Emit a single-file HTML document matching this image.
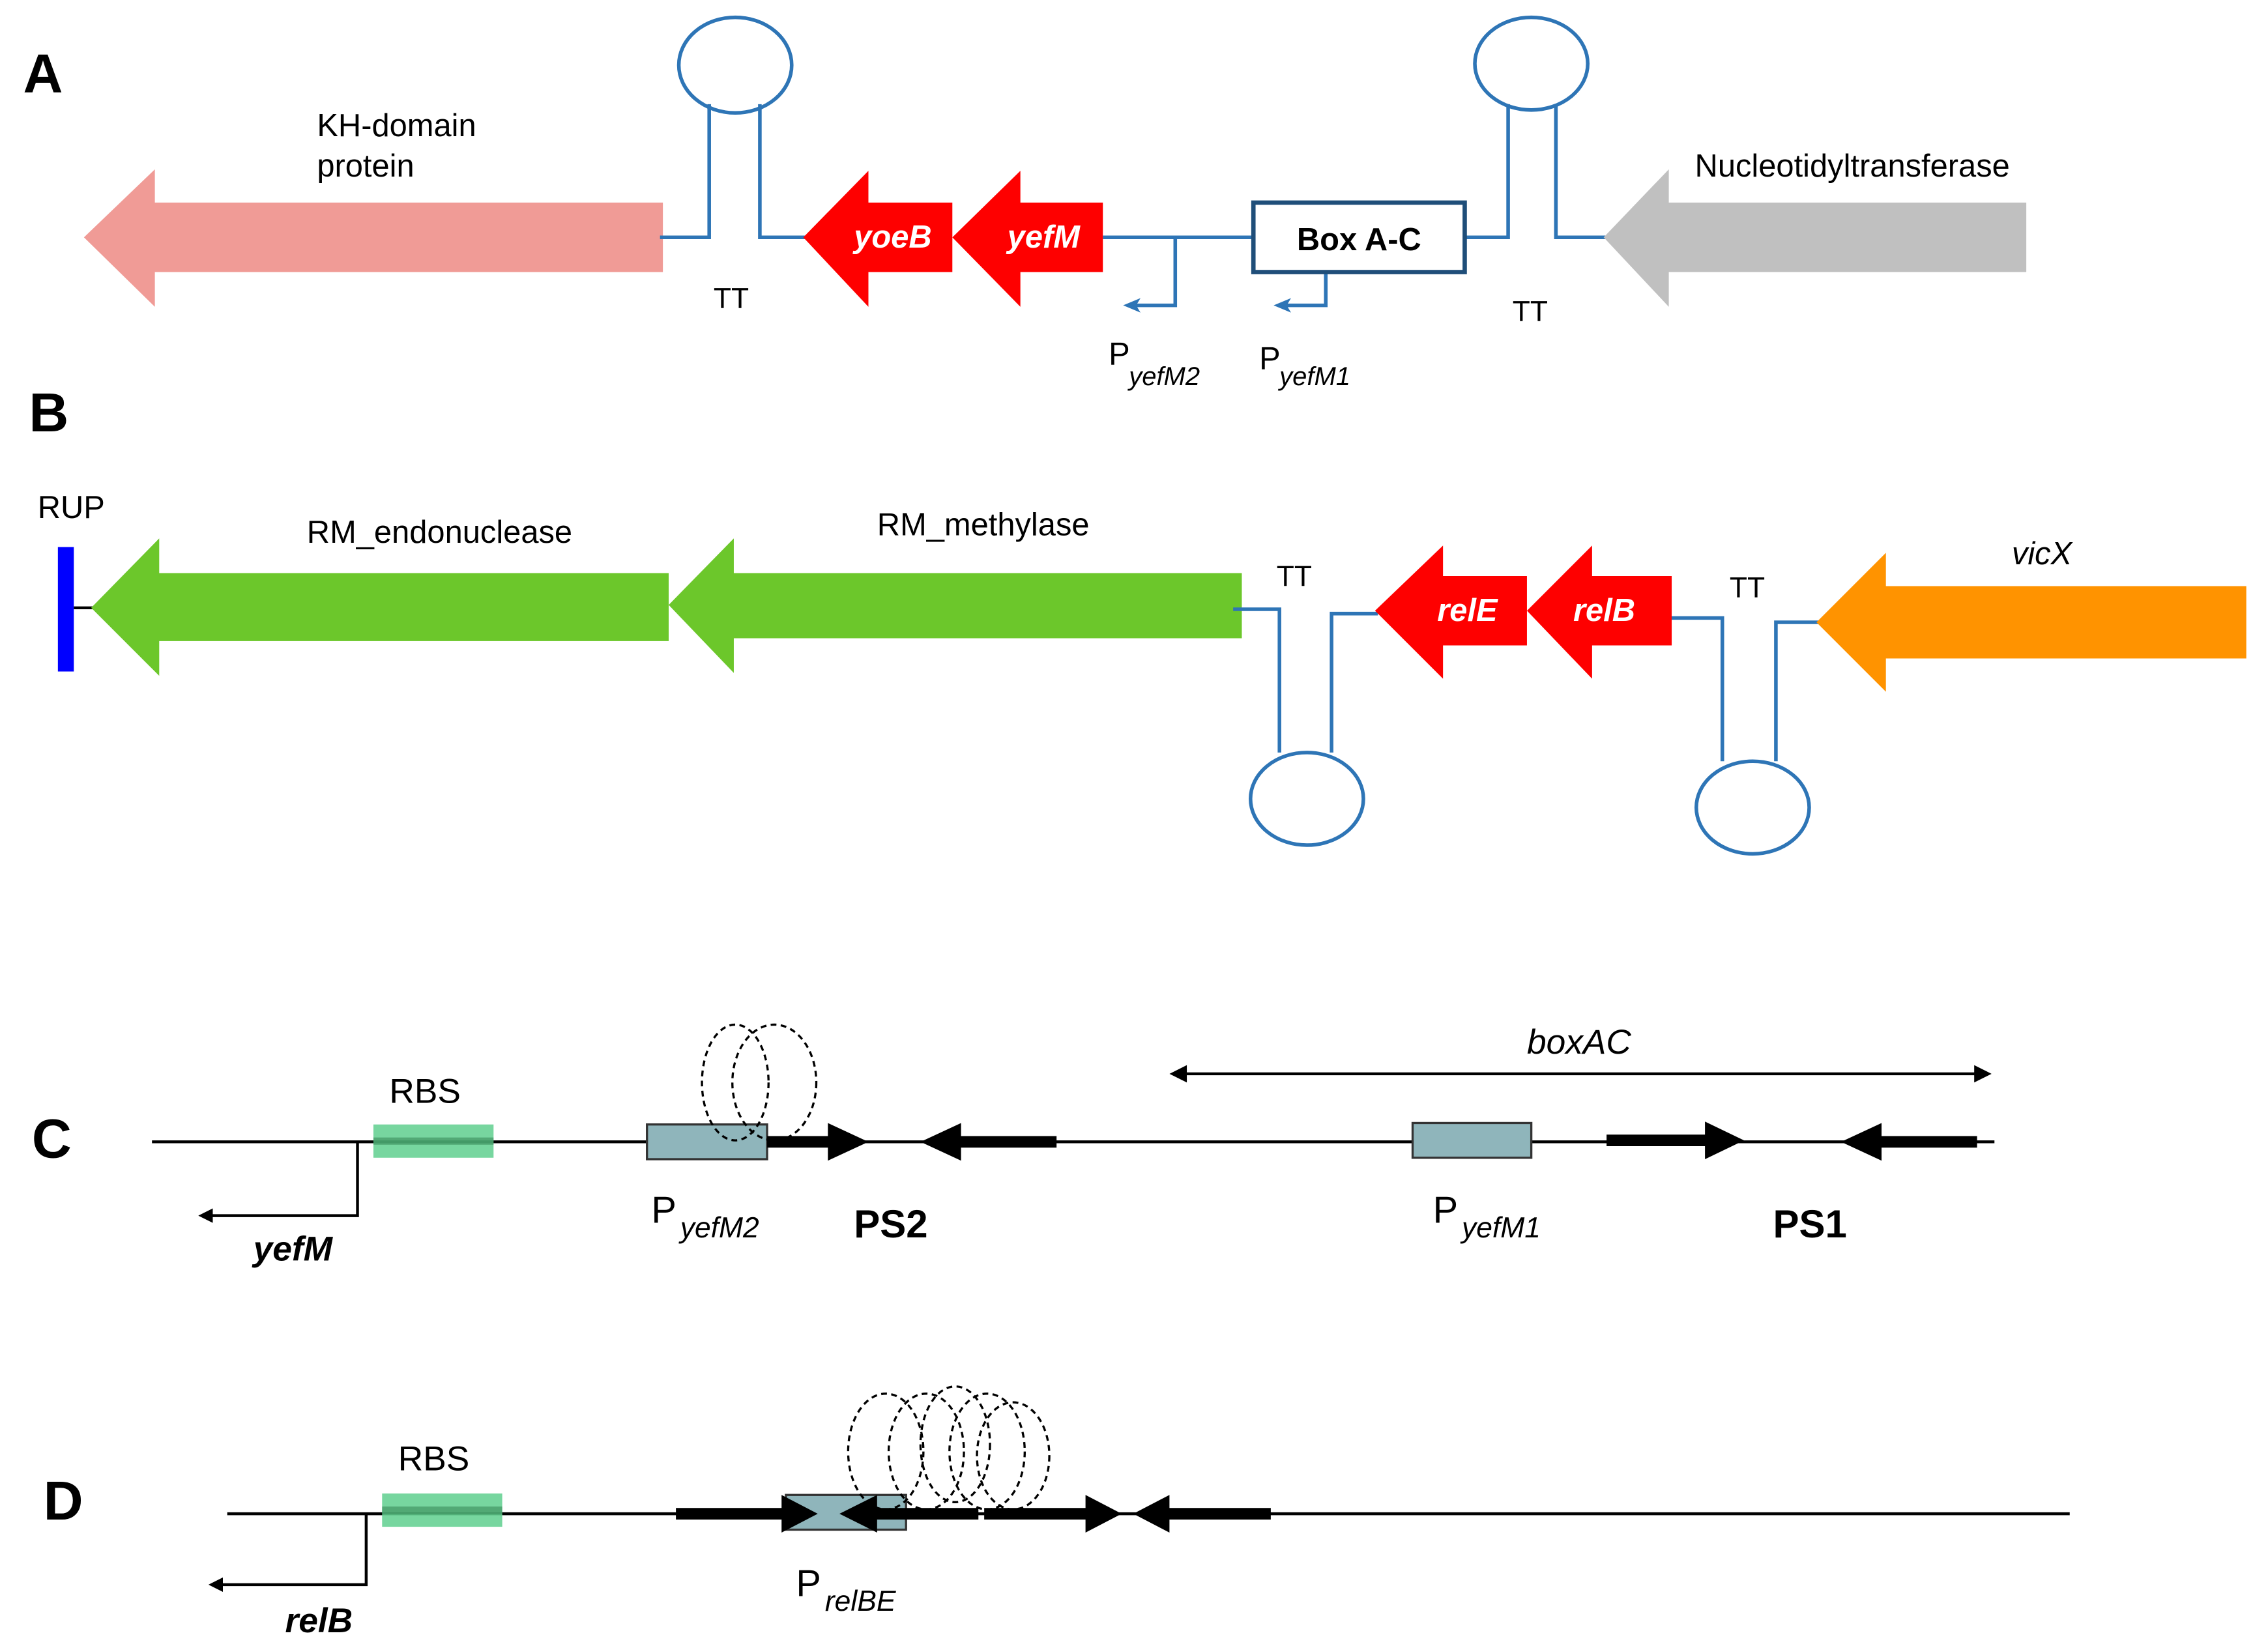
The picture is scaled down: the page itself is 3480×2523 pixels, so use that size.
<!DOCTYPE html>
<html><head><meta charset="utf-8"><style>
html,body{margin:0;padding:0;background:#fff;}
svg{display:block;}
text{font-family:"Liberation Sans",sans-serif;}
</style></head><body>
<svg width="3480" height="2523" viewBox="0 0 1567 1136" preserveAspectRatio="none" xmlns="http://www.w3.org/2000/svg">
<defs>
<marker id="ah" markerWidth="10" markerHeight="10" refX="5" refY="5" orient="auto" markerUnits="userSpaceOnUse"><path d="M0,0 L10,5 L0,10 z" fill="#000"/></marker>
<marker id="bh" markerWidth="12" markerHeight="12" refX="6" refY="6" orient="auto" markerUnits="userSpaceOnUse"><path d="M0,1 L12,6 L0,11 L3,6 z" fill="#2e75b6"/></marker>
</defs>
<!-- A -->
<text x="16" y="64" font-size="38" font-weight="bold">A</text>
<polygon points="58,164 107,117 107,140 458,140 458,188 107,188 107,212" fill="#f09b96"/>
<text x="219" y="94" font-size="22">KH-domain</text>
<text x="219" y="122" font-size="22">protein</text>
<g fill="none" stroke="#2e75b6" stroke-width="2.5">
<path d="M456,164 H490 V72"/><path d="M525,72 V164 H558"/>
<ellipse cx="508" cy="45" rx="39" ry="33"/>
<path d="M762,164 H866"/>
<path d="M812,164 V211 H782" marker-end="url(#bh)"/>
<path d="M916,188 V211 H886" marker-end="url(#bh)"/>
<path d="M1012,164 H1042 V72"/><path d="M1075,72 V164 H1110"/>
<ellipse cx="1058" cy="44" rx="39" ry="32"/>
</g>
<text x="493" y="213" font-size="20">TT</text>
<text x="1045" y="222" font-size="20">TT</text>
<polygon points="555,164 600,118 600,140 658,140 658,188 600,188 600,212" fill="#fe0000"/>
<text x="590" y="171" font-size="22" font-weight="bold" font-style="italic" fill="#fff">yoeB</text>
<polygon points="658,164 705,118 705,140 762,140 762,188 705,188 705,212" fill="#fe0000"/>
<text x="696" y="171" font-size="22" font-weight="bold" font-style="italic" fill="#fff">yefM</text>
<rect x="866" y="140" width="146" height="48" fill="#fff" stroke="#1f4e79" stroke-width="3"/>
<text x="939" y="173" font-size="22" font-weight="bold" text-anchor="middle">Box A-C</text>
<text x="766" y="252" font-size="22">P</text><text x="780" y="266" font-size="18" font-style="italic">yefM2</text>
<text x="870" y="255" font-size="22">P</text><text x="884" y="266" font-size="18" font-style="italic">yefM1</text>
<polygon points="1108,164 1153,117 1153,140 1400,140 1400,188 1153,188 1153,212" fill="#c0c0c0"/>
<text x="1171" y="122" font-size="22">Nucleotidyltransferase</text>
<!-- B -->
<text x="20" y="298" font-size="38" font-weight="bold">B</text>
<text x="26" y="358" font-size="22">RUP</text>
<rect x="40" y="378" width="11" height="86" fill="#0000ff"/>
<line x1="51" y1="420" x2="65" y2="420" stroke="#000" stroke-width="2"/>
<polygon points="63,420 110,372 110,396 462,396 462,443 110,443 110,467" fill="#6cc72b"/>
<polygon points="462,418 507,372 507,396 858,396 858,441 507,441 507,465" fill="#6cc72b"/>
<text x="212" y="375" font-size="22">RM_endonuclease</text>
<text x="606" y="370" font-size="22">RM_methylase</text>
<g fill="none" stroke="#2e75b6" stroke-width="2.5">
<path d="M852,421 H884 V520"/><path d="M920,520 V424 H952"/>
<ellipse cx="903" cy="552" rx="39" ry="32"/>
<path d="M1155,427 H1190 V526"/><path d="M1227,526 V430 H1258"/>
<ellipse cx="1211" cy="558" rx="39" ry="32"/>
</g>
<text x="882" y="405" font-size="20">TT</text>
<text x="1195" y="413" font-size="20">TT</text>
<polygon points="950,422 997,377 997,398 1055,398 1055,446 997,446 997,469" fill="#fe0000"/>
<text x="993" y="429" font-size="22" font-weight="bold" font-style="italic" fill="#fff">relE</text>
<polygon points="1055,422 1100,377 1100,398 1155,398 1155,446 1100,446 1100,469" fill="#fe0000"/>
<text x="1087" y="429" font-size="22" font-weight="bold" font-style="italic" fill="#fff">relB</text>
<polygon points="1255,430 1303,382 1303,405 1552,405 1552,455 1303,455 1303,478" fill="#ff9300"/>
<text x="1390" y="390" font-size="22" font-style="italic">vicX</text>
<!-- C -->
<text x="22" y="800" font-size="38" font-weight="bold">C</text>
<line x1="105" y1="789" x2="1378" y2="789" stroke="#000" stroke-width="2"/>
<rect x="258" y="777" width="83" height="23" fill="#5fcf8e" opacity="0.85"/>
<rect x="258" y="786" width="83" height="5" fill="#3a8a5a" opacity="0.6"/>
<text x="269" y="762" font-size="24">RBS</text>
<path d="M247,789 V840 H142" fill="none" stroke="#000" stroke-width="2" marker-end="url(#ah)"/>
<text x="175" y="871" font-size="24" font-weight="bold" font-style="italic">yefM</text>
<rect x="447" y="777" width="83" height="24" fill="#8fb5bb" stroke="#333" stroke-width="1.5"/>
<ellipse cx="508" cy="748" rx="23" ry="40" fill="none" stroke="#000" stroke-width="1.5" stroke-dasharray="4,3"/>
<ellipse cx="535" cy="748" rx="29" ry="40" fill="none" stroke="#000" stroke-width="1.5" stroke-dasharray="4,3"/>
<polygon points="530,785 572,785 572,776 600,789 572,802 572,793 530,793" fill="#000"/>
<polygon points="636,789 664,776 664,785 730,785 730,793 664,793 664,802" fill="#000"/>
<line x1="814" y1="742" x2="1370" y2="742" stroke="#000" stroke-width="2"/>
<polygon points="808,742 820,736 820,748" fill="#000"/><polygon points="1376,742 1364,736 1364,748" fill="#000"/>
<text x="1055" y="728" font-size="24" font-style="italic">boxAC</text>
<rect x="976" y="776" width="82" height="24" fill="#8fb5bb" stroke="#333" stroke-width="1.5"/>
<polygon points="1110,784 1178,784 1178,775 1205,788 1178,801 1178,792 1110,792" fill="#000"/>
<polygon points="1272,789 1300,776 1300,785 1366,785 1366,793 1300,793 1300,802" fill="#000"/>
<text x="450" y="845" font-size="26">P</text><text x="470" y="855" font-size="20" font-style="italic">yefM2</text>
<text x="990" y="845" font-size="26">P</text><text x="1010" y="855" font-size="20" font-style="italic">yefM1</text>
<text x="590" y="855" font-size="27" font-weight="bold">PS2</text>
<text x="1225" y="855" font-size="27" font-weight="bold">PS1</text>
<!-- D -->
<text x="30" y="1050" font-size="38" font-weight="bold">D</text>
<line x1="157" y1="1046" x2="1430" y2="1046" stroke="#000" stroke-width="2"/>
<rect x="264" y="1032" width="83" height="23" fill="#5fcf8e" opacity="0.85"/>
<rect x="264" y="1041" width="83" height="5" fill="#3a8a5a" opacity="0.6"/>
<text x="275" y="1016" font-size="24">RBS</text>
<path d="M253,1046 V1095 H149" fill="none" stroke="#000" stroke-width="2" marker-end="url(#ah)"/>
<text x="197" y="1128" font-size="24" font-weight="bold" font-style="italic">relB</text>
<rect x="543" y="1033" width="83" height="24" fill="#8fb5bb" stroke="#333" stroke-width="1.5"/>
<g fill="none" stroke="#000" stroke-width="1.5" stroke-dasharray="4,3">
<ellipse cx="612" cy="1003" rx="26" ry="40"/><ellipse cx="640" cy="1003" rx="26" ry="40"/>
<ellipse cx="660" cy="998" rx="24" ry="40"/><ellipse cx="682" cy="1003" rx="26" ry="40"/>
<ellipse cx="700" cy="1006" rx="25" ry="37"/>
</g>
<polygon points="467,1042 540,1042 540,1033 565,1046 540,1059 540,1050 467,1050" fill="#000"/>
<polygon points="580,1046 606,1033 606,1042 676,1042 676,1050 606,1050 606,1059" fill="#000"/>
<polygon points="680,1042 750,1042 750,1033 775,1046 750,1059 750,1050 680,1050" fill="#000"/>
<polygon points="783,1046 808,1033 808,1042 878,1042 878,1050 808,1050 808,1059" fill="#000"/>
<text x="550" y="1103" font-size="26">P</text><text x="570" y="1113" font-size="20" font-style="italic">relBE</text>
</svg>
</body></html>
